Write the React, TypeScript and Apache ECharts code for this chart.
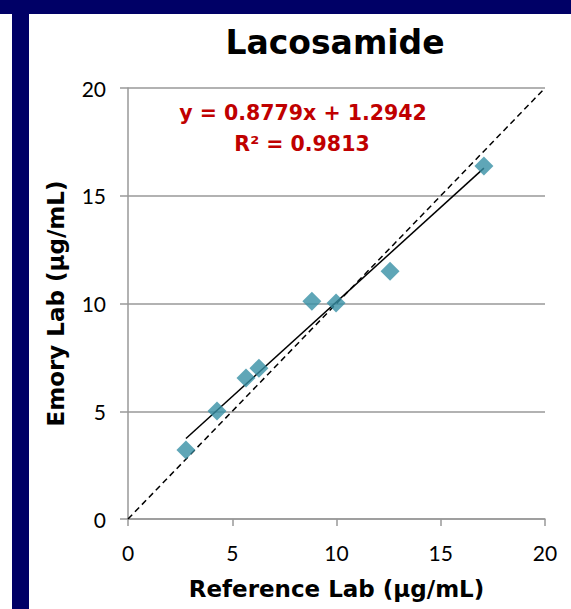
import React, { useEffect, useRef } from "react";
import * as echarts from "echarts";

const referenceLab = [2.78, 4.27, 5.66, 6.28, 8.82, 9.98, 12.57, 17.07];
const emoryLab = [3.2, 5.01, 6.54, 7.0, 10.1, 10.02, 11.5, 16.38];
const slope = 0.8779;
const intercept = 1.2942;
const rSquared = 0.9813;
const axisTicks = [0, 5, 10, 15, 20];

export default function App() {
  const ref = useRef<HTMLDivElement>(null);
  useEffect(() => {
    if (!ref.current) return;
    const chart = echarts.init(ref.current, null, { renderer: "svg" });
    const points = referenceLab.map((x, i) => [x, emoryLab[i]]);
    const xMin = Math.min(...referenceLab);
    const xMax = Math.max(...referenceLab);
    const trend = [
      [xMin, slope * xMin + intercept],
      [xMax, slope * xMax + intercept],
    ];
    const tickFont = "Lato, 'DejaVu Sans', sans-serif";
    const boldFont = "'DejaVu Sans', Verdana, sans-serif";
    chart.setOption({
      animation: false,
      backgroundColor: "#ffffff",
      title: {
        text: "Lacosamide",
        left: 335,
        textAlign: "center",
        top: 26,
        padding: 0,
        textStyle: {
          fontFamily: boldFont,
          fontWeight: "bold",
          fontSize: 33,
          color: "#000000",
        },
      },
      graphic: [
        { type: "rect", shape: { x: 0, y: 0, width: 571, height: 14 }, style: { fill: "#000066" }, silent: true },
        { type: "rect", shape: { x: 12, y: 14, width: 17, height: 595 }, style: { fill: "#000066" }, silent: true },
        {
          type: "text",
          x: 303,
          y: 113,
          style: {
            text: `y = ${slope}x + ${intercept}`,
            fill: "#C00000",
            font: `bold 20.5px ${boldFont}`,
            textAlign: "center",
            textVerticalAlign: "middle",
          },
        },
        {
          type: "text",
          x: 302,
          y: 144,
          style: {
            text: `R² = ${rSquared}`,
            fill: "#C00000",
            font: `bold 20.5px ${boldFont}`,
            textAlign: "center",
            textVerticalAlign: "middle",
          },
        },
      ],
      grid: { left: 128, right: 26, top: 88, bottom: 90, containLabel: false },
      xAxis: {
        type: "value",
        min: axisTicks[0],
        max: axisTicks[axisTicks.length - 1],
        interval: 5,
        name: "Reference Lab (µg/mL)",
        nameLocation: "middle",
        nameGap: 58,
        nameTextStyle: {
          fontFamily: boldFont,
          fontWeight: "bold",
          fontSize: 23,
          color: "#000",
        },
        axisLine: { show: true, onZero: false, lineStyle: { color: "#999999", width: 1.5 } },
        axisTick: { show: true, length: 7, lineStyle: { color: "#999999", width: 1.5 } },
        axisLabel: { fontFamily: tickFont, fontSize: 21, color: "#000", margin: 23 },
        splitLine: { show: false },
      },
      yAxis: {
        type: "value",
        min: axisTicks[0],
        max: axisTicks[axisTicks.length - 1],
        interval: 5,
        name: "Emory Lab (µg/mL)",
        nameLocation: "middle",
        nameGap: 61,
        nameRotate: 90,
        nameTextStyle: {
          fontFamily: boldFont,
          fontWeight: "bold",
          fontSize: 23,
          color: "#000",
        },
        axisLine: { show: true, onZero: false, lineStyle: { color: "#999999", width: 1.5 } },
        axisTick: { show: true, length: 8, lineStyle: { color: "#999999", width: 1.5 } },
        axisLabel: { fontFamily: tickFont, fontSize: 21, color: "#000", margin: 22 },
        splitLine: { show: true, lineStyle: { color: "#999999", width: 1.5 } },
      },
      series: [
        {
          type: "line",
          data: [
            [axisTicks[0], axisTicks[0]],
            [axisTicks[axisTicks.length - 1], axisTicks[axisTicks.length - 1]],
          ],
          showSymbol: false,
          symbol: "none",
          lineStyle: { color: "#000", width: 1.5, type: [6, 4] },
          z: 3,
        },
        {
          type: "line",
          data: trend,
          showSymbol: false,
          symbol: "none",
          lineStyle: { color: "#000", width: 1.5 },
          z: 4,
        },
        {
          type: "scatter",
          data: points,
          symbol: "diamond",
          symbolSize: 19,
          itemStyle: { color: "#3790A5" },
          z: 5,
        },
      ],
    });
    return () => chart.dispose();
  }, []);
  return (
    <div
      ref={ref}
      style={{ position: "fixed", left: 0, top: 0, width: 571, height: 609 }}
    />
  );
}
